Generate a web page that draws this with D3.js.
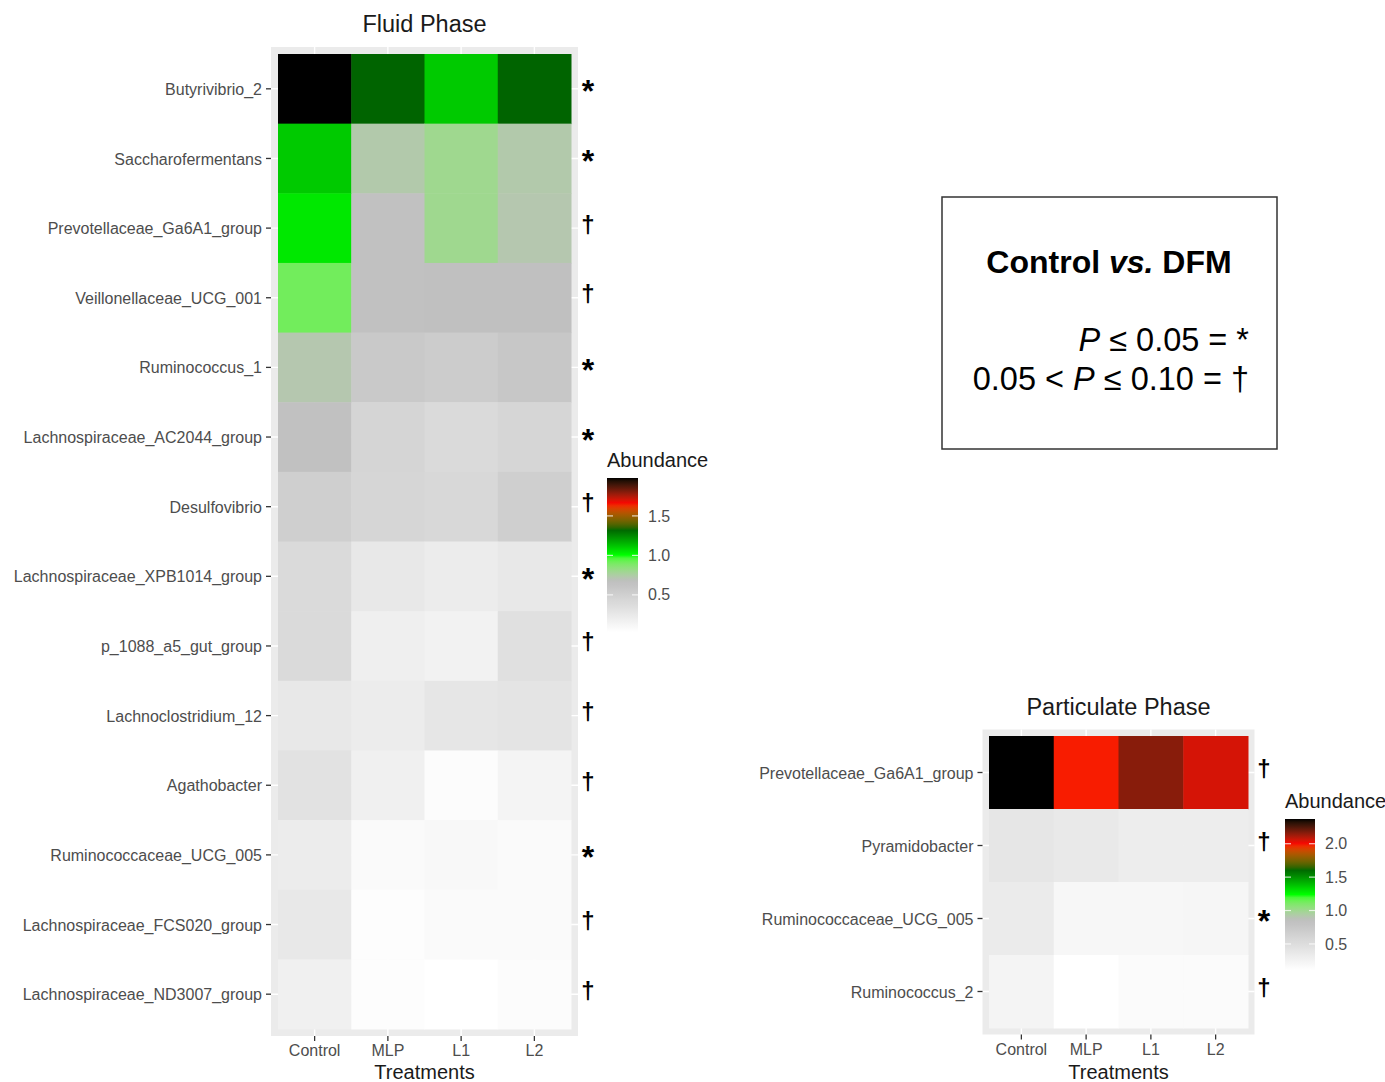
<!DOCTYPE html>
<html>
<head>
<meta charset="utf-8">
<script src="https://cdn.jsdelivr.net/npm/d3@7"></script>
<style>
  html, body { margin: 0; padding: 0; background: #ffffff; }
  svg { display: block; font-family: "Liberation Sans", Arial, Helvetica, sans-serif; }
</style>
</head>
<body>
<svg id="chart" width="1385" height="1082"></svg>
<script>
// ---- data -------------------------------------------------------------
const treatments = ["Control", "MLP", "L1", "L2"];

const fluidTaxa = [
  "Butyrivibrio_2", "Saccharofermentans", "Prevotellaceae_Ga6A1_group",
  "Veillonellaceae_UCG_001", "Ruminococcus_1", "Lachnospiraceae_AC2044_group",
  "Desulfovibrio", "Lachnospiraceae_XPB1014_group", "p_1088_a5_gut_group",
  "Lachnoclostridium_12", "Agathobacter", "Ruminococcaceae_UCG_005",
  "Lachnospiraceae_FCS020_group", "Lachnospiraceae_ND3007_group"
];
// abundance per taxon, columns: Control, MLP, L1, L2
const fluidValues = [
  [1.98, 1.33, 1.11, 1.33],
  [1.11, 0.73, 0.80, 0.73],
  [1.05, 0.65, 0.80, 0.72],
  [0.91, 0.65, 0.66, 0.66],
  [0.72, 0.57, 0.535, 0.59],
  [0.65, 0.445, 0.40, 0.435],
  [0.51, 0.435, 0.415, 0.51],
  [0.40, 0.26, 0.22, 0.26],
  [0.40, 0.19, 0.16, 0.34],
  [0.26, 0.22, 0.28, 0.30],
  [0.32, 0.18, 0.06, 0.14],
  [0.22, 0.08, 0.10, 0.08],
  [0.26, 0.05, 0.08, 0.08],
  [0.18, 0.05, 0.03, 0.06]
];
const fluidSig = ["*", "*", "†", "†", "*", "*", "†", "*", "†", "†", "†", "*", "†", "†"];
const fluidBreaks = [0.5, 1.0, 1.5];

const partTaxa = ["Prevotellaceae_Ga6A1_group", "Pyramidobacter", "Ruminococcaceae_UCG_005", "Ruminococcus_2"];
const partValues = [
  [2.37, 1.98, 2.16, 2.05],
  [0.39, 0.36, 0.31, 0.32],
  [0.34, 0.20, 0.20, 0.21],
  [0.23, 0.11, 0.15, 0.16]
];
const partSig = ["†", "†", "*", "†"];
const partBreaks = [0.5, 1.0, 1.5, 2.0];

// gradient palette, evenly spaced over the data range
const paletteColors = ["#ffffff", "#bebebe", "#00ff00", "#006400", "#ff0000", "#000000"];
const paletteStops = [0, 1 / 3, 1 / 2, 2 / 3, 5 / 6, 1];

// ---- drawing ----------------------------------------------------------
const svg = d3.select("#chart");
const AXIS_GREY = "#4d4d4d";

function makeColor(values) {
  const flat = values.flat();
  const lo = d3.min(flat), hi = d3.max(flat);
  const scale = d3.scaleLinear()
    .domain(paletteStops.map(s => lo + s * (hi - lo)))
    .range(paletteColors)
    .interpolate(d3.interpolateLab)
    .clamp(true);
  return { scale, lo, hi };
}

function heatmap(cfg) {
  const g = svg.append("g");
  const x = d3.scaleBand().domain(treatments).range([cfg.x0, cfg.x1]);
  const y = d3.scaleBand().domain(cfg.taxa).range([cfg.y0, cfg.y1]);
  const { scale: color, lo, hi } = makeColor(cfg.values);
  const m = cfg.margin;

  // panel background
  g.append("rect")
    .attr("x", cfg.x0 - m).attr("y", cfg.y0 - m)
    .attr("width", cfg.x1 - cfg.x0 + 2 * m).attr("height", cfg.y1 - cfg.y0 + 2 * m)
    .attr("fill", "#ebebeb");

  // major grid lines
  g.selectAll("line.gx").data(treatments).join("line")
    .attr("x1", d => x(d) + x.bandwidth() / 2).attr("x2", d => x(d) + x.bandwidth() / 2)
    .attr("y1", cfg.y0 - m).attr("y2", cfg.y1 + m)
    .attr("stroke", "#ffffff").attr("stroke-width", 1.4);
  g.selectAll("line.gy").data(cfg.taxa).join("line")
    .attr("y1", d => y(d) + y.bandwidth() / 2).attr("y2", d => y(d) + y.bandwidth() / 2)
    .attr("x1", cfg.x0 - m).attr("x2", cfg.x1 + m)
    .attr("stroke", "#ffffff").attr("stroke-width", 1.4);

  // tiles
  const cells = [];
  cfg.taxa.forEach((t, i) => treatments.forEach((tr, j) => cells.push({ t, tr, v: cfg.values[i][j] })));
  g.selectAll("rect.cell").data(cells).join("rect")
    .attr("x", d => x(d.tr)).attr("y", d => y(d.t))
    .attr("width", x.bandwidth() + 0.5).attr("height", y.bandwidth() + 0.5)
    .attr("fill", d => color(d.v));

  // axes
  const yAxis = g.append("g")
    .attr("transform", `translate(${cfg.x0 - m},0)`)
    .call(d3.axisLeft(y).tickSize(5).tickPadding(4));
  yAxis.select(".domain").remove();
  yAxis.selectAll("line").attr("stroke", "#333333").attr("stroke-width", 1.3);
  yAxis.selectAll("text").attr("fill", AXIS_GREY).attr("font-size", 16).attr("dy", "0.38em")
    .attr("font-family", "Liberation Sans, Arial, sans-serif");

  const xAxis = g.append("g")
    .attr("transform", `translate(0,${cfg.y1 + m})`)
    .call(d3.axisBottom(x).tickSize(5).tickPadding(4));
  xAxis.select(".domain").remove();
  xAxis.selectAll("line").attr("stroke", "#333333").attr("stroke-width", 1.3);
  xAxis.selectAll("text").attr("fill", AXIS_GREY).attr("font-size", 16)
    .attr("font-family", "Liberation Sans, Arial, sans-serif");

  // titles
  const cx = (cfg.x0 + cfg.x1) / 2;
  g.append("text").attr("x", cx).attr("y", cfg.titleY).attr("text-anchor", "middle")
    .attr("font-size", 23.5).attr("fill", "#1a1a1a").text(cfg.title);
  g.append("text").attr("x", cx).attr("y", cfg.xTitleY).attr("text-anchor", "middle")
    .attr("font-size", 20).attr("fill", "#1a1a1a").text("Treatments");

  // significance markers
  g.selectAll("text.sig").data(cfg.taxa).join("text")
    .attr("x", cfg.sigX)
    .attr("y", (d, i) => y(d) + y.bandwidth() / 2 + (cfg.sig[i] === "*" ? 13.5 : 4.5))
    .attr("text-anchor", "middle")
    .attr("font-size", (d, i) => cfg.sig[i] === "*" ? 32 : 24)
    .attr("font-weight", "bold")
    .attr("fill", "#000000")
    .text((d, i) => cfg.sig[i]);

  // colour bar legend
  const L = cfg.legend;
  const gradId = "grad-" + cfg.id;
  const grad = svg.append("defs").append("linearGradient")
    .attr("id", gradId).attr("x1", 0).attr("y1", 1).attr("x2", 0).attr("y2", 0);
  d3.range(0, 1.0001, 0.02).forEach(s => {
    grad.append("stop").attr("offset", s).attr("stop-color", color(lo + s * (hi - lo)));
  });
  g.append("text").attr("x", L.x).attr("y", L.titleY).attr("font-size", 20)
    .attr("fill", "#1a1a1a").text("Abundance");
  g.append("rect").attr("x", L.x).attr("y", L.top)
    .attr("width", L.w).attr("height", L.bottom - L.top)
    .attr("fill", `url(#${gradId})`);
  const ly = d3.scaleLinear().domain([lo, hi]).range([L.bottom, L.top]);
  const br = g.selectAll("g.brk").data(cfg.breaks).join("g")
    .attr("transform", d => `translate(0,${ly(d)})`);
  br.append("line").attr("x1", L.x).attr("x2", L.x + 6)
    .attr("stroke", "#ffffff").attr("stroke-opacity", 0.75).attr("stroke-width", 1.2);
  br.append("line").attr("x1", L.x + L.w - 6).attr("x2", L.x + L.w)
    .attr("stroke", "#ffffff").attr("stroke-opacity", 0.75).attr("stroke-width", 1.2);
  br.append("text").attr("x", L.x + L.w + 10).attr("dy", "0.35em")
    .attr("font-size", 16).attr("fill", AXIS_GREY).text(d => d.toFixed(1));
}

heatmap({
  id: "fluid", title: "Fluid Phase", taxa: fluidTaxa, values: fluidValues, sig: fluidSig,
  breaks: fluidBreaks,
  x0: 278, x1: 571, y0: 54, y1: 1029, margin: 7,
  titleY: 32, xTitleY: 1079, sigX: 588,
  legend: { x: 607, w: 31, top: 478, bottom: 632, titleY: 467 }
});

heatmap({
  id: "part", title: "Particulate Phase", taxa: partTaxa, values: partValues, sig: partSig,
  breaks: partBreaks,
  x0: 989, x1: 1248, y0: 736, y1: 1028, margin: 6.5,
  titleY: 715, xTitleY: 1079, sigX: 1264,
  legend: { x: 1285, w: 30, top: 819, bottom: 970, titleY: 808 }
});

// significance key
const key = svg.append("g");
key.append("rect").attr("x", 942).attr("y", 197).attr("width", 335).attr("height", 252)
  .attr("fill", "#ffffff").attr("stroke", "#333333").attr("stroke-width", 1.5);
const k1 = key.append("text").attr("x", 1109).attr("y", 273).attr("text-anchor", "middle")
  .attr("font-size", 32).attr("font-weight", "bold").attr("fill", "#000");
k1.append("tspan").text("Control ");
k1.append("tspan").attr("font-style", "italic").text("vs.");
k1.append("tspan").text(" DFM");
const k2 = key.append("text").attr("x", 1249).attr("y", 351).attr("text-anchor", "end")
  .attr("font-size", 32.5).attr("fill", "#000");
k2.append("tspan").attr("font-style", "italic").text("P");
k2.append("tspan").text(" ≤ 0.05 = *");
const k3 = key.append("text").attr("x", 1249).attr("y", 390).attr("text-anchor", "end")
  .attr("font-size", 32.5).attr("fill", "#000");
k3.append("tspan").text("0.05 < ");
k3.append("tspan").attr("font-style", "italic").text("P");
k3.append("tspan").text(" ≤ 0.10 = †");
</script>
</body>
</html>
